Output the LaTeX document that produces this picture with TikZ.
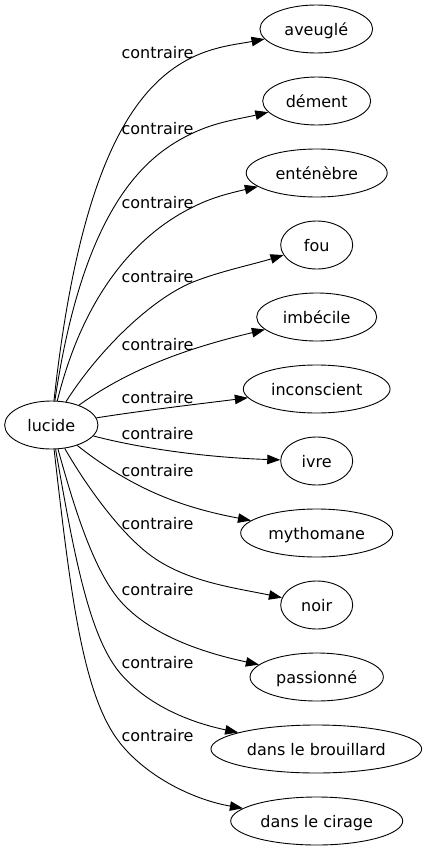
\documentclass[tikz,border=0pt]{standalone}
\usepackage{fontspec}
\setmainfont{DejaVu Sans}
\usetikzlibrary{arrows.meta,shapes.geometric}
\begin{document}
\begin{tikzpicture}[x=1pt,y=1pt,
  ell/.style={draw, ellipse, line width=0.9pt, inner sep=0pt, minimum height=48pt,
    font=\fontsize{16}{19}\selectfont, text height=14pt, text depth=0.8pt},
  lab/.style={anchor=base, inner sep=0pt, font=\fontsize{16}{19}\selectfont},
  conn/.style={draw, line width=0.9pt, -{Triangle[length=13pt,width=9.5pt]}}]
\useasboundingbox (0,0) rectangle (427,-851);
\fill[white] (0,0) rectangle (427,-851);
% nodes
\node[ell, minimum width=93.3pt] (l) at (51.3,-425) {lucide};
\node[ell, minimum width=112.7pt] (a) at (316.3,-29) {aveuglé};
\node[ell, minimum width=108pt] (d) at (316.7,-101) {dément};
\node[ell, minimum width=141pt] (e) at (316.7,-173) {enténèbre};
\node[ell, minimum width=72pt] (f) at (316.7,-245) {fou};
\node[ell, minimum width=120pt] (i) at (316.7,-317) {imbécile};
\node[ell, minimum width=146.7pt] (c) at (316.7,-389) {inconscient};
\node[ell, minimum width=72pt] (v) at (316.7,-461) {ivre};
\node[ell, minimum width=152pt] (m) at (316.7,-533) {mythomane};
\node[ell, minimum width=72pt] (n) at (316.7,-605) {noir};
\node[ell, minimum width=133.3pt] (p) at (316.7,-677) {passionné};
\node[ell, minimum width=210.7pt] (b) at (316.3,-749) {dans le brouillard};
\node[ell, minimum width=172pt] (g) at (316.7,-821) {dans le cirage};
% edges
\draw[conn] (l) .. controls (79,-173) and (130,-87) .. (193,-57) .. controls (216,-46) and (239,-44) .. (a);
\draw[conn] (l) .. controls (84,-203) and (148,-154) .. (193,-133) .. controls (216,-122) and (239,-119) .. (d);
\draw[conn] (l) .. controls (86,-285) and (144,-231) .. (193,-207) .. controls (211,-198) and (226,-194) .. (e);
\draw[conn] (l) .. controls (98,-351) and (151,-299) .. (193,-282) .. controls (221,-271) and (251,-265) .. (f);
\draw[conn] (l) .. controls (135,-365) and (197,-346) .. (i);
\draw[conn] (l) .. controls (146,-410) and (207,-403) .. (c);
\draw[conn] (l) .. controls (151,-451) and (220,-458) .. (v);
\draw[conn] (l) .. controls (135,-491) and (185,-508) .. (m);
\draw[conn] (l) .. controls (84,-482) and (118,-531) .. (150,-555) .. controls (186,-582) and (236,-588) .. (n);
\draw[conn] (l) .. controls (74,-507) and (92,-565) .. (117,-597) .. controls (148,-636) and (207,-653.5) .. (p);
\draw[conn] (l) .. controls (73,-548) and (88,-635) .. (120,-673) .. controls (149,-707) and (193,-723) .. (b);
\draw[conn] (l) .. controls (71,-598) and (83,-696) .. (120,-743) .. controls (148,-778) and (195,-800) .. (g);
% labels
\node[lab] (t1) at (157.5,-58.5) {contraire};
\node[lab] (t2) at (157.5,-134) {contraire};
\node[lab] (t3) at (157.5,-208) {contraire};
\node[lab] (t4) at (157.5,-282.5) {contraire};
\node[lab] (t5) at (157.5,-350.5) {contraire};
\node[lab] (t6) at (157.5,-403) {contraire};
\node[lab] (t7) at (157.5,-439) {contraire};
\node[lab] (t8) at (157.5,-476.5) {contraire};
\node[lab] (t9) at (157.5,-529) {contraire};
\node[lab] (t10) at (157.5,-595) {contraire};
\node[lab] (t11) at (157.5,-668) {contraire};
\node[lab] (t12) at (157.5,-741) {contraire};
\end{tikzpicture}
\end{document}
